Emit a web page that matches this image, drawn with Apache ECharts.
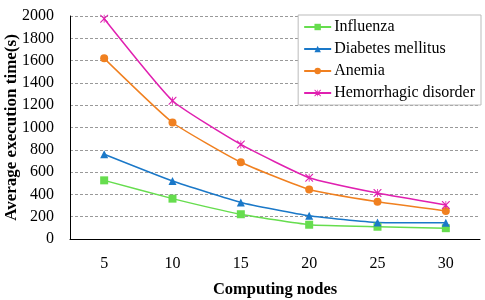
<!DOCTYPE html>
<html><head><meta charset="utf-8">
<script src="https://cdn.jsdelivr.net/npm/echarts@6/dist/echarts.min.js"></script>
<style>html,body{margin:0;padding:0;background:#fff}#c{width:485px;height:300px}</style>
</head><body><div id="c"></div>
<script>
const categories = ['5','10','15','20','25','30'];
const influenza = [526, 362, 222, 128, 110, 97];
const diabetes = [760, 520, 328, 208, 148, 145];
const anemia = [1620, 1045, 688, 444, 334, 252];
const hemorrhagic = [1975, 1240, 848, 550, 412, 305];
const seriesNames = ['Influenza','Diabetes mellitus','Anemia','Hemorrhagic disorder'];

const starPath = 'path://M0,0L1,0L5,4L9,0L10,0L10,1L6,5L10,9L10,10L9,10L5,6L1,10L0,10L0,9L4,5L0,1Z M4.5,0L5.5,0L5.5,10L4.5,10Z';
const font = '"Liberation Serif", "Times New Roman", serif';
function s(name, data, color, symbol, size){
  return {name, type:'line', data, smooth:0.15, symbol, symbolSize:size,
    lineStyle:{color, width:1.5}, itemStyle:{color}, z:3};
}
const chart = echarts.init(document.getElementById('c'), null, {renderer:'canvas'});
chart.setOption({
  animation:false,
  textStyle:{fontFamily:font},
  grid:{left:70, right:5, top:16, bottom:61, containLabel:false, outerBoundsMode:'none'},
  legend:{
    orient:'vertical', right:4, top:15, itemGap:6, itemWidth:27, itemHeight:8,
    padding:[4,6,4,5], borderColor:'#bbb', borderWidth:1, backgroundColor:'#fff',
    textStyle:{fontFamily:font, fontSize:16, color:'#000', padding:[0,0,0,-2]},
    data:seriesNames
  },
  xAxis:{type:'category', data:categories, boundaryGap:true,
    axisLine:{lineStyle:{color:'#000', width:1}},
    axisTick:{inside:true, length:6, lineStyle:{color:'#000'}},
    axisLabel:{fontFamily:font, fontSize:16, color:'#000', margin:17},
    name:'Computing nodes', nameLocation:'middle', nameGap:42, nameMoveOverlap:false,
    nameTextStyle:{fontFamily:font, fontSize:16.5, fontWeight:'bold', color:'#000'}
  },
  yAxis:{type:'value', min:0, max:2000, interval:200,
    axisLine:{show:true, lineStyle:{color:'#000', width:1}},
    axisTick:{show:false},
    axisLabel:{fontFamily:font, fontSize:16, color:'#000', margin:16, formatter:function(v){return String(v);}},
    splitLine:{lineStyle:{color:'#999', type:[3,2], width:1}},
    name:'Average execution time(s)', nameLocation:'middle', nameGap:50, nameMoveOverlap:false,
    nameTextStyle:{fontFamily:font, fontSize:17, fontWeight:'bold', color:'#000'}
  },
  series:[
    s(seriesNames[0], influenza, '#66dd4e', 'rect', 8),
    s(seriesNames[1], diabetes, '#1a78c8', 'triangle', 8),
    s(seriesNames[2], anemia, '#f08020', 'circle', 8),
    s(seriesNames[3], hemorrhagic, '#e020b0', starPath, 8)
  ]
});
</script></body></html>
